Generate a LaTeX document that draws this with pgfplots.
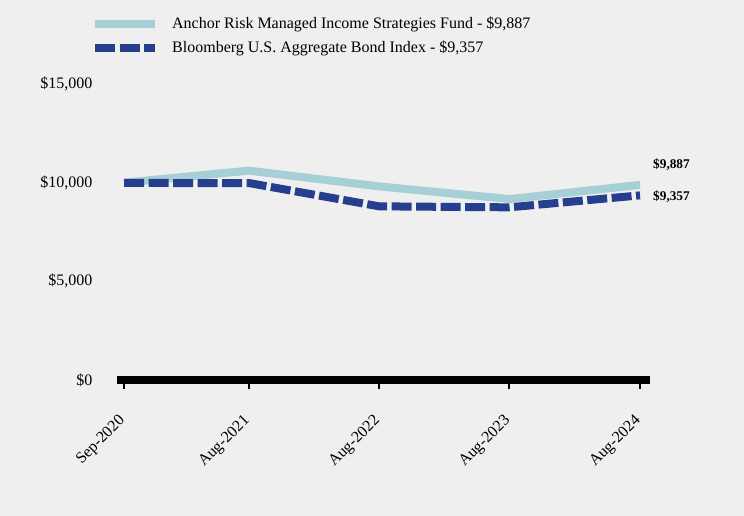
\documentclass[border=0pt]{standalone}
\usepackage{fontspec}
\setmainfont{Liberation Serif}
\usepackage{pgfplots}
\pgfplotsset{compat=1.18}
\definecolor{bg}{HTML}{EFEFEF}
\definecolor{fundc}{HTML}{A6D0D6}
\definecolor{idxc}{HTML}{253F8E}
\begin{document}
\begin{tikzpicture}
\fill[bg] (-117bp,-136bp) rectangle (627bp,380bp);
\begin{axis}[
  scale only axis,
  width=533bp, height=296bp,
  xmin=-20, xmax=1474,
  ymin=0, ymax=15000,
  scaled ticks=false,
  axis x line*=bottom,
  axis y line*=left,
  x axis line style={line width=8bp, -, black},
  y axis line style={draw=none},
  ytick={0,5000,10000,15000},
  yticklabels={{\$0},{\$5,000},{\$10,000},{\$15,000}},
  ytick style={draw=none},
  yticklabel style={anchor=east, xshift=-12bp, font=\fontsize{16bp}{19bp}\selectfont},
  xtick={0,350,715,1080,1446},
  xticklabels={Sep-2020,Aug-2021,Aug-2022,Aug-2023,Aug-2024},
  xtick style={line width=2bp, black},
  tick align=outside,
  major tick length=9bp,
  xticklabel style={yshift=-27bp, xshift=1bp, rotate=45, anchor=east, font=\fontsize{16bp}{19bp}\selectfont},
  legend style={
    at={(-29bp,366bp)}, anchor=north west,
    draw=none, fill=none,
    font=\fontsize{16bp}{19bp}\selectfont,
    row sep=8bp,
    nodes={inner sep=0pt, text height=12bp, text depth=4bp},
  },
  legend cell align=left,
  legend image code/.code={\draw[#1] (0bp,0bp) -- (60bp,0bp); \path (73bp,0bp);},
  clip=false,
]
\addplot[fundc, line width=8bp] coordinates {
  (0,10000) (350,10610) (715,9810) (1080,9170) (1446,9887)
};
\addlegendentry{Anchor Risk Managed Income Strategies Fund - \$9,887}
\addplot[idxc, line width=8bp, dash pattern=on 20bp off 4.5bp] coordinates {
  (0,9985) (350,9980) (715,8800) (1080,8750) (1446,9357)
};
\addlegendentry{Bloomberg U.S. Aggregate Bond Index - \$9,357}
\node[anchor=west, font=\fontsize{13.3bp}{16bp}\selectfont\bfseries, inner sep=0pt] at (axis cs:1446,9887) [xshift=13bp, yshift=20bp] {\$9,887};
\node[anchor=west, font=\fontsize{13.3bp}{16bp}\selectfont\bfseries, inner sep=0pt] at (axis cs:1446,9357) [xshift=13bp, yshift=-1bp] {\$9,357};
\end{axis}
\pgfresetboundingbox
\path[use as bounding box] (-117bp,-136bp) rectangle (627bp,380bp);
\end{tikzpicture}
\end{document}
